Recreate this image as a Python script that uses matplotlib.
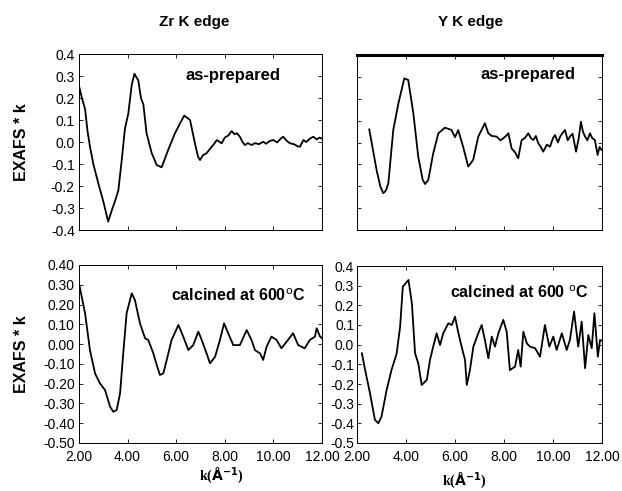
import matplotlib
matplotlib.use("Agg")
import matplotlib.pyplot as plt
from matplotlib.ticker import FormatStrFormatter, MultipleLocator

plt.rcParams['font.family'] = ['Liberation Sans', 'DejaVu Sans']

# Zr K edge, as-prepared
zr_ap_k = [2.0, 2.12, 2.25, 2.35, 2.45, 2.59, 2.8, 3.0, 3.2, 3.35, 3.48, 3.62, 3.76, 3.89, 4.03,
           4.17, 4.28, 4.44, 4.55, 4.65, 4.78, 4.99, 5.2, 5.4, 5.67, 5.95, 6.16, 6.33, 6.45,
           6.57, 6.77, 6.9, 6.98, 7.1, 7.25, 7.4, 7.55, 7.67, 7.87, 8.0, 8.15, 8.28, 8.4, 8.5,
           8.62, 8.73, 8.83, 8.95, 9.1, 9.25, 9.4, 9.58, 9.7, 9.85, 10.0, 10.15, 10.3, 10.4,
           10.55, 10.68, 10.85, 11.0, 11.1, 11.23, 11.35, 11.5, 11.64, 11.78, 11.9, 12.0]
zr_ap_y = [0.255, 0.2, 0.15, 0.05, -0.02, -0.1, -0.19, -0.27, -0.362, -0.31, -0.27, -0.22, -0.08,
           0.06, 0.13, 0.26, 0.31, 0.28, 0.2, 0.17, 0.04, -0.05, -0.105, -0.115, -0.036, 0.04,
           0.085, 0.12, 0.11, 0.1, -0.006, -0.067, -0.082, -0.06, -0.051, -0.03, -0.01, 0.009,
           -0.006, 0.02, 0.03, 0.05, 0.035, 0.04, 0.024, 0.0, -0.014, -0.005, -0.014, -0.005,
           -0.01, 0.001, -0.008, 0.005, 0.009, -0.002, 0.015, 0.024, 0.005, -0.006, -0.01,
           -0.02, -0.021, 0.009, 0.0, 0.015, 0.024, 0.012, 0.02, 0.015]

# Y K edge, as-prepared
y_ap_k = [2.5, 2.8, 2.95, 3.07, 3.18, 3.28, 3.48, 3.69, 3.93, 4.09, 4.3, 4.5, 4.68, 4.78, 4.91,
          5.11, 5.32, 5.59, 5.86, 6.0, 6.13, 6.33, 6.54, 6.74, 6.95, 7.22, 7.36, 7.5, 7.7,
          7.85, 7.97, 8.08, 8.18, 8.31, 8.45, 8.58, 8.72, 8.85, 8.99, 9.1, 9.2, 9.3, 9.4, 9.5,
          9.6, 9.75, 9.88, 10.0, 10.08, 10.2, 10.29, 10.4, 10.49, 10.6, 10.69, 10.8, 10.94,
          11.05, 11.14, 11.22, 11.31, 11.4, 11.51, 11.6, 11.71, 11.82, 11.9, 11.98]
y_ap_y = [0.06, -0.126, -0.2, -0.232, -0.22, -0.186, 0.057, 0.179, 0.293, 0.286, 0.133, -0.065,
          -0.17, -0.19, -0.171, -0.05, 0.042, 0.068, 0.057, 0.024, 0.057, -0.019, -0.11, -0.08,
          0.027, 0.088, 0.042, 0.03, 0.027, 0.01, 0.019, 0.03, 0.042, -0.027, -0.045, -0.072,
          0.011, 0.02, 0.042, 0.02, 0.011, 0.03, -0.004, -0.02, -0.042, -0.01, -0.019, 0.02,
          0.034, 0.0, 0.027, 0.045, 0.057, 0.01, 0.027, 0.04, -0.042, 0.02, 0.095, 0.05, 0.027,
          0.01, 0.042, 0.02, 0.011, -0.057, -0.02, -0.034]

# Zr K edge, calcined at 600 C
zr_c_k = [2.0, 2.25, 2.45, 2.66, 2.86, 3.07, 3.28, 3.41, 3.55, 3.69, 3.82, 3.96, 4.17, 4.3,
          4.51, 4.72, 4.85, 5.06, 5.2, 5.33, 5.47, 5.61, 5.81, 6.09, 6.29, 6.5, 6.7, 6.91,
          7.05, 7.25, 7.39, 7.6, 7.8, 7.97, 8.14, 8.35, 8.62, 8.9, 9.1, 9.24, 9.45, 9.58,
          9.72, 9.92, 10.13, 10.33, 10.6, 10.81, 11.02, 11.29, 11.5, 11.71, 11.78, 11.92, 12.0]
zr_c_y = [0.307, 0.156, -0.03, -0.148, -0.198, -0.232, -0.317, -0.342, -0.333, -0.249, -0.047,
          0.156, 0.257, 0.223, 0.105, 0.029, 0.021, -0.047, -0.106, -0.156, -0.148, -0.08,
          0.021, 0.097, 0.038, -0.03, -0.005, 0.063, 0.021, -0.047, -0.097, -0.064, 0.021,
          0.105, 0.055, -0.005, -0.005, 0.071, 0.021, -0.03, -0.047, -0.08, -0.013, 0.038,
          0.021, -0.021, 0.021, 0.055, -0.005, -0.021, 0.021, 0.038, 0.08, 0.038, 0.03]

# Y K edge, calcined at 600 C
y_c_k = [2.2, 2.33, 2.53, 2.73, 2.87, 3.0, 3.21, 3.41, 3.62, 3.76, 3.87, 4.1, 4.24, 4.37, 4.5,
         4.64, 4.85, 4.98, 5.11, 5.25, 5.39, 5.52, 5.73, 5.87, 6.0, 6.14, 6.27, 6.41, 6.48,
         6.61, 6.75, 6.95, 7.09, 7.22, 7.36, 7.5, 7.63, 7.77, 7.97, 8.11, 8.24, 8.45, 8.58,
         8.68, 8.79, 8.93, 9.06, 9.27, 9.47, 9.67, 9.85, 10.01, 10.15, 10.36, 10.56, 10.69,
         10.86, 11.03, 11.17, 11.31, 11.44, 11.58, 11.69, 11.83, 11.92, 12.0]
y_c_y = [-0.044, -0.128, -0.247, -0.382, -0.4, -0.366, -0.23, -0.128, -0.044, 0.092, 0.295,
         0.329, 0.21, -0.044, -0.095, -0.205, -0.179, -0.077, -0.01, 0.058, -0.002, 0.058,
         0.109, 0.1, 0.142, 0.058, -0.01, -0.078, -0.205, -0.129, -0.01, 0.058, 0.1, 0.024,
         -0.069, 0.041, -0.01, 0.058, 0.126, 0.066, -0.129, -0.112, -0.027, -0.112, 0.066,
         0.007, -0.01, -0.018, -0.061, 0.1, -0.01, 0.041, -0.027, 0.058, -0.027, 0.024,
         0.168, -0.01, 0.117, -0.12, 0.049, -0.018, 0.16, -0.061, 0.024, 0.02]

col_titles = ["Zr K edge", "Y K edge"]
ylabel = "EXAFS * k"
xlabel = r"k($\mathbf{\AA^{-1}}$)"
label_top = "as-prepared"
label_bl = r"calcined at 600$^{\rm o}$C"
label_br = r"calcined at 600 $^{\rm o}$C"
xticks = [2, 4, 6, 8, 10, 12]

W, H = 622, 491
fig = plt.figure(figsize=(W / 100, H / 100), dpi=100)

def ax_at(x0, y0, x1, y1):
    return fig.add_axes([x0 / W, 1 - y1 / H, (x1 - x0) / W, (y1 - y0) / H])

ax_tl = ax_at(79, 54, 322, 230)
ax_tr = ax_at(357, 55, 602, 230)
ax_bl = ax_at(79, 265, 322, 443)
ax_br = ax_at(357, 266, 602, 443)

lw = 1.3
ax_tl.plot(zr_ap_k, zr_ap_y, color='black', lw=lw)
ax_tr.plot(y_ap_k, y_ap_y, color='black', lw=lw)
ax_bl.plot(zr_c_k, zr_c_y, color='black', lw=lw)
ax_br.plot(y_c_k, y_c_y, color='black', lw=lw)

for ax in (ax_tl, ax_tr, ax_bl, ax_br):
    ax.set_xlim(2, 12)
    ax.set_xticks(xticks)
    ax.tick_params(direction='in', length=3, width=0.6, labelsize=10, pad=3,
                   top=True, right=True)
    ax.tick_params(axis='x', pad=5)
    for s in ax.spines.values():
        s.set_linewidth(0.7)

for ax in (ax_tl, ax_tr):
    ax.set_ylim(-0.4, 0.4)
    ax.yaxis.set_major_locator(MultipleLocator(0.1))
    ax.tick_params(labelbottom=False)
ax_tl.yaxis.set_major_formatter(FormatStrFormatter('%.1f'))
ax_tr.tick_params(labelleft=False)
ax_tr.spines['top'].set_linewidth(2.2)

for ax in (ax_bl, ax_br):
    ax.set_ylim(-0.5, 0.4)
    ax.yaxis.set_major_locator(MultipleLocator(0.1))
    ax.xaxis.set_major_formatter(FormatStrFormatter('%.2f'))
ax_bl.yaxis.set_major_formatter(FormatStrFormatter('%.2f'))
ax_br.yaxis.set_major_formatter(FormatStrFormatter('%.1f'))
ax_br.tick_params(axis='y', pad=2)

fw = 'bold'
ax_tl.text(0.634, 0.88, label_top, transform=ax_tl.transAxes, ha='center', va='center',
           fontsize=12, fontweight=fw)
ax_tr.text(0.698, 0.89, label_top, transform=ax_tr.transAxes, ha='center', va='center',
           fontsize=12, fontweight=fw)
ax_bl.text(0.654, 0.83, label_bl, transform=ax_bl.transAxes, ha='center', va='center',
           fontsize=11.5, fontweight=fw)
ax_br.text(0.661, 0.847, label_br, transform=ax_br.transAxes, ha='center', va='center',
           fontsize=11.5, fontweight=fw)

fig.text(194 / W, 1 - 22 / H, col_titles[0], ha='center', va='center', fontsize=11, fontweight=fw)
fig.text(470 / W, 1 - 22 / H, col_titles[1], ha='center', va='center', fontsize=11, fontweight=fw)

fig.text(22 / W, 1 - 142 / H, ylabel, rotation=90, ha='center', va='center', fontsize=11.5, fontweight=fw)
fig.text(22 / W, 1 - 354 / H, ylabel, rotation=90, ha='center', va='center', fontsize=11.5, fontweight=fw)

fig.text(221 / W, 1 - 476 / H, xlabel, ha='center', va='center', fontsize=10,
         fontweight=fw, family='Liberation Serif')
fig.text(464 / W, 1 - 481 / H, xlabel, ha='center', va='center', fontsize=10,
         fontweight=fw, family='Liberation Serif')

fig.savefig('out.png', dpi=100)
